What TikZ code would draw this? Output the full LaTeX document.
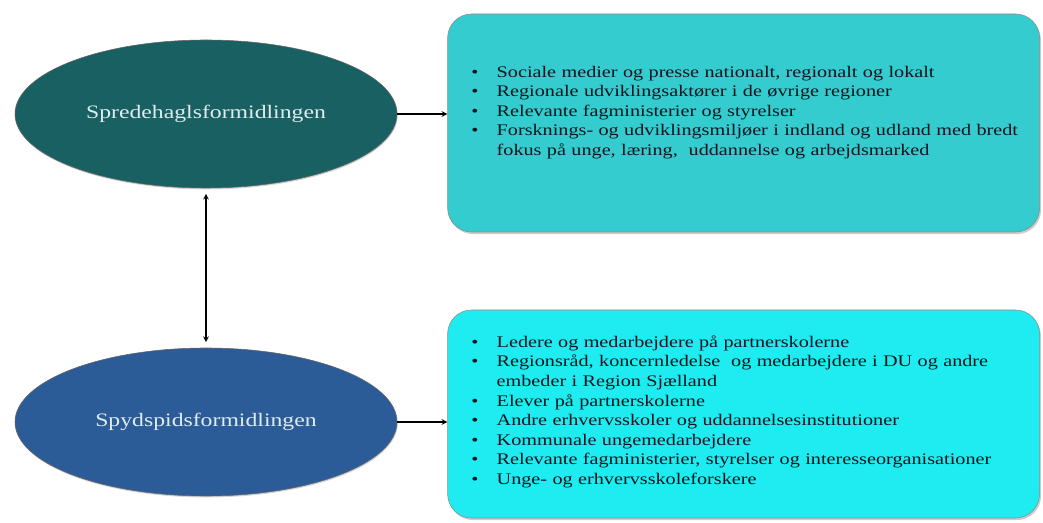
\documentclass[tikz,border=0pt]{standalone}
\usepackage{fontspec}
\setmainfont{Liberation Serif}[FakeStretch=1.25]
\usepackage{enumitem}
\usetikzlibrary{shapes.geometric,shadows}
\definecolor{spredfill}{RGB}{24,96,98}
\definecolor{spydfill}{RGB}{44,92,152}
\definecolor{spredbox}{RGB}{52,204,206}
\definecolor{spydbox}{RGB}{30,236,240}
\definecolor{elltext}{RGB}{222,236,240}
\definecolor{listtext}{RGB}{12,20,30}
\setlist[itemize]{label=\textbullet, leftmargin=0.63cm, labelwidth=0.2cm, labelsep=0.43cm, align=left, itemsep=0pt, topsep=0pt, parsep=0pt, partopsep=0pt}

\begin{document}
\begin{tikzpicture}
    \tikzstyle{group}=[ellipse, draw=black!60, minimum width=9.55cm, minimum height=3.7cm, inner sep=0pt, text=elltext, font=\fontsize{13.5}{16}\selectfont, drop shadow={opacity=0.35, shadow xshift=0.5pt, shadow yshift=-1pt}]
    \tikzstyle{listbox}=[rectangle, rounded corners=0.6cm, draw=black!45, minimum width=14.8cm, inner sep=0pt, drop shadow={opacity=0.4, shadow xshift=1pt, shadow yshift=-1.5pt}]
    \tikzstyle{list}=[anchor=north west, inner sep=0pt, text width=14.2cm, text=listtext, font=\fontsize{11.5}{13.9}\selectfont]

    \useasboundingbox (0,0) rectangle (26.075,13.05);

    % the two groups
    \node[group, fill=spredfill] (spred) at (5.15,10.2) {Spredehaglsformidlingen};
    \node[group, fill=spydfill] (spyd) at (5.15,2.5) {Spydspidsformidlingen};

    % target boxes
    \node[listbox, fill=spredbox, minimum height=5.45cm] (spredboks) at (18.59,9.975) {};
    \node[listbox, fill=spydbox, minimum height=5.2cm] (spydboks) at (18.59,2.7) {};

    \node[list] (spredlist) at (11.78,11.62) {%
        \begin{itemize}
            \item Sociale medier og presse nationalt, regionalt og lokalt
            \item Regionale udviklingsaktører i de øvrige regioner
            \item Relevante fagministerier og styrelser
            \item Forsknings- og udviklingsmiljøer i indland og udland med bredt\newline
                  fokus på unge, læring,\ \ uddannelse og arbejdsmarked
        \end{itemize}};
    \node[list] (spydlist) at (11.78,4.86) {%
        \begin{itemize}
            \item Ledere og medarbejdere på partnerskolerne
            \item Regionsråd, koncernledelse\ \ og medarbejdere i DU og andre\newline
                  embeder i Region Sjælland
            \item Elever på partnerskolerne
            \item Andre erhvervsskoler og uddannelsesinstitutioner
            \item Kommunale ungemedarbejdere
            \item Relevante fagministerier, styrelser og interesseorganisationer
            \item Unge- og erhvervsskoleforskere
        \end{itemize}};

    % connectors
    \draw[->, thick, >=stealth] (spred.east) -- (spred.east -| spredboks.west);
    \draw[->, thick, >=stealth] (spyd.east) -- (spyd.east -| spydboks.west);
    \draw[<->, thick, >=stealth, shorten >=4pt, shorten <=4pt] (spred) -- (spyd);
\end{tikzpicture}
\end{document}
